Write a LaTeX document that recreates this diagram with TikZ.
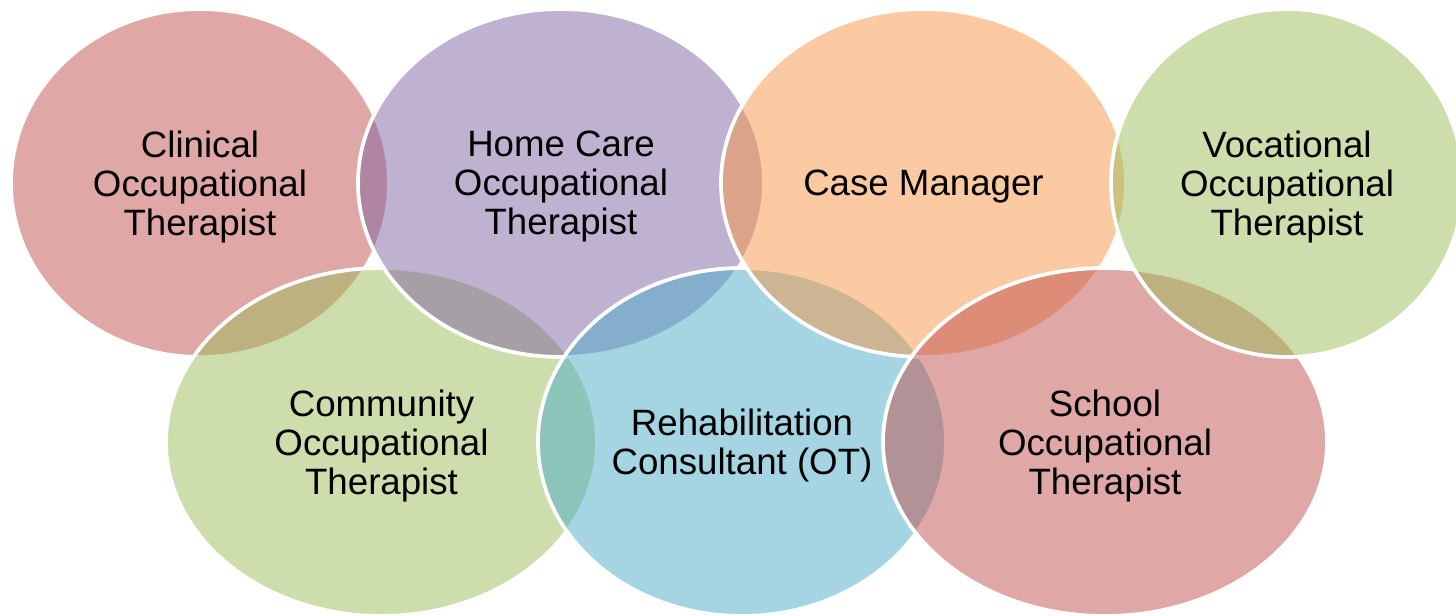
\documentclass[tikz,border=0pt]{standalone}
\usepackage{fontspec}
\setmainfont{Liberation Sans}
\usepackage{xcolor}
\usetikzlibrary{shapes.geometric,positioning}

\definecolor{otred}{HTML}{C0504D}
\definecolor{otpurple}{HTML}{8064A2}
\definecolor{otorange}{HTML}{F79646}
\definecolor{otgreen}{HTML}{9BBB59}
\definecolor{otblue}{HTML}{4BACC6}

\begin{document}
\begin{tikzpicture}[x=0.75pt, y=-0.75pt,
        ring/.style={ellipse, draw=white, line width=2.8pt, inner sep=0pt,
            fill opacity=0.5, text opacity=1, minimum height=261pt,
            text depth=0pt, align=center, text=black,
            font=\fontsize{27.5}{29.25}\selectfont}
    ]
        \useasboundingbox (0,0) rectangle (1456,616);

        % Rings, drawn zig-zag so each later one lies on top
        \node [ring, fill=otred, minimum width=283.5pt] (clinical) at (200,183)
            {Clinical\\Occupational\\Therapist};
        \node [ring, fill=otgreen, minimum width=323.25pt] (community) at (381.5,442)
            {Community\\Occupational\\Therapist};
        \node [ring, fill=otpurple, minimum width=304.5pt] (homecare) at (561,183)
            {Home Care\\Occupational\\Therapist};
        \node [ring, fill=otblue, minimum width=306pt] (rehab) at (742,442)
            {Rehabilitation\\Consultant (OT)};
        \node [ring, fill=otorange, minimum width=303.75pt] (casemgr) at (923.5,183)
            {Case Manager};
        \node [ring, fill=otred, minimum width=333pt] (school) at (1105,442)
            {School\\Occupational\\Therapist};
        \node [ring, fill=otgreen, minimum width=264pt] (vocational) at (1287,183)
            {Vocational\\Occupational\\Therapist};
    \end{tikzpicture}
\end{document}
